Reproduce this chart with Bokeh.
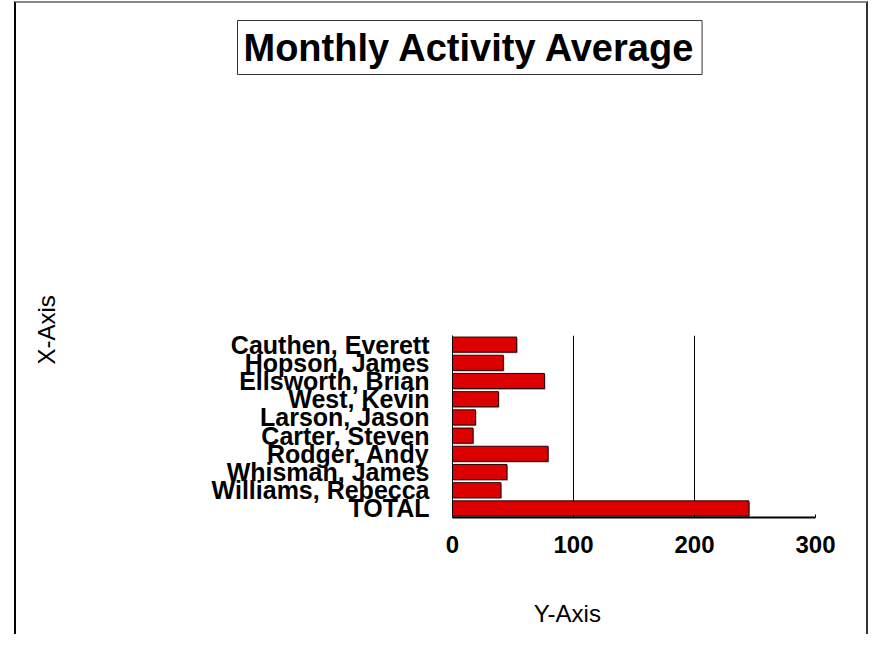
from bokeh.plotting import figure
from bokeh.models import FactorRange, Range1d, FixedTicker, LinearAxis
from bokeh.transform import dodge
from bokeh.embed import file_html
from bokeh.resources import INLINE

names = ["Cauthen, Everett", "Hopson, James", "Ellsworth, Brian", "West, Kevin",
         "Larson, Jason", "Carter, Steven", "Rodger, Andy", "Whisman, James",
         "Williams, Rebecca", "TOTAL"]
values = [53, 42, 76, 38, 19, 17, 79, 45, 40, 245]
x_ticks = [0, 100, 200, 300]

title_text = "Monthly Activity Average"
x_label = "Y-Axis"
y_label = "X-Axis"

NB = "\u00a0"

p = figure(width=854, height=633, output_backend="svg", toolbar_location=None,
           y_range=FactorRange(factors=list(reversed(names)), range_padding=0),
           x_range=Range1d(0, 300),
           min_border_left=436, min_border_right=55, min_border_top=332, min_border_bottom=119)
p.margin = (1, 0, 0, 14)
p.outline_line_color = None
p.background_fill_color = "white"
p.border_fill_color = "white"
p.styles = {"border-left": "2px solid black", "border-top": "2px solid #888",
            "border-right": "2px solid #333"}

src = dict(names=names, values=values, shadow=[v + 0.8 for v in values])
p.hbar(y=dodge("names", -0.06, range=p.y_range), left=0.8, right="shadow", height=0.83,
       source=src, fill_color="#9a9a9a", line_color=None)
p.hbar(y="names", left=0, right="values", height=0.83, source=src,
       fill_color="#DD0000", line_color="#2a0000", line_width=1)

p.xaxis.ticker = FixedTicker(ticks=x_ticks)
p.xaxis.major_label_text_font = "Liberation Sans"
p.xaxis.major_label_text_font_style = "bold"
p.xaxis.major_label_text_font_size = "24px"
p.xaxis.major_label_text_color = "black"
p.xaxis.major_label_standoff = 18
p.xaxis.major_tick_out = 0
p.xaxis.major_tick_in = 3
p.xaxis.minor_tick_line_color = None
p.xaxis.axis_line_color = "black"
p.xaxis.axis_line_width = 2

p.yaxis.major_label_text_font = "Liberation Sans"
p.yaxis.major_label_text_font_style = "bold"
p.yaxis.major_label_text_font_size = "25px"
p.yaxis.major_label_text_color = "black"
p.yaxis.major_label_standoff = 23
p.yaxis.major_tick_out = 0
p.yaxis.major_tick_in = 0
p.yaxis.major_tick_line_color = None
p.yaxis.axis_line_color = "black"

p.xgrid.ticker = FixedTicker(ticks=x_ticks)
p.xgrid.grid_line_color = "black"
p.xgrid.grid_line_width = 1
p.ygrid.grid_line_color = None

# invisible spacer axis above the frame: its blank label's standoff pushes the title up
spacer = LinearAxis(ticker=FixedTicker(ticks=[]), axis_line_color=None,
                    major_tick_line_color=None, minor_tick_line_color=None,
                    major_tick_out=0, major_tick_in=0, major_label_text_font_size="0px",
                    axis_label=NB, axis_label_text_font_size="1px",
                    axis_label_standoff=252)
p.add_layout(spacer, "above")

# title
p.title.text = title_text
p.title.align = "left"
p.title.offset = -215
p.title.standoff = 10
p.title.text_font = "Liberation Sans"
p.title.text_font_style = "bold"
p.title.text_font_size = "38px"
p.title.text_color = "black"
p.title.border_line_color = "#333"
p.title.border_line_width = 1
p.title.padding = 6

# axis titles on extra, invisible axes
def label_axis(axis, text, standoff):
    axis.ticker = FixedTicker(ticks=[])
    axis.axis_line_color = None
    axis.major_tick_line_color = None
    axis.minor_tick_line_color = None
    axis.major_tick_out = 0
    axis.major_label_text_font_size = "0px"
    axis.axis_label = text
    axis.axis_label_text_font = "Liberation Sans"
    axis.axis_label_text_font_style = "normal"
    axis.axis_label_text_font_size = "24px"
    axis.axis_label_text_color = "black"
    axis.axis_label_standoff = standoff
    return axis

xl = label_axis(LinearAxis(), x_label + NB * 20, 44)
p.add_layout(xl, "below")

yl = label_axis(LinearAxis(), NB * 29 + y_label, 149)
p.add_layout(yl, "left")

open("out.html", "w").write(file_html(p, INLINE))
